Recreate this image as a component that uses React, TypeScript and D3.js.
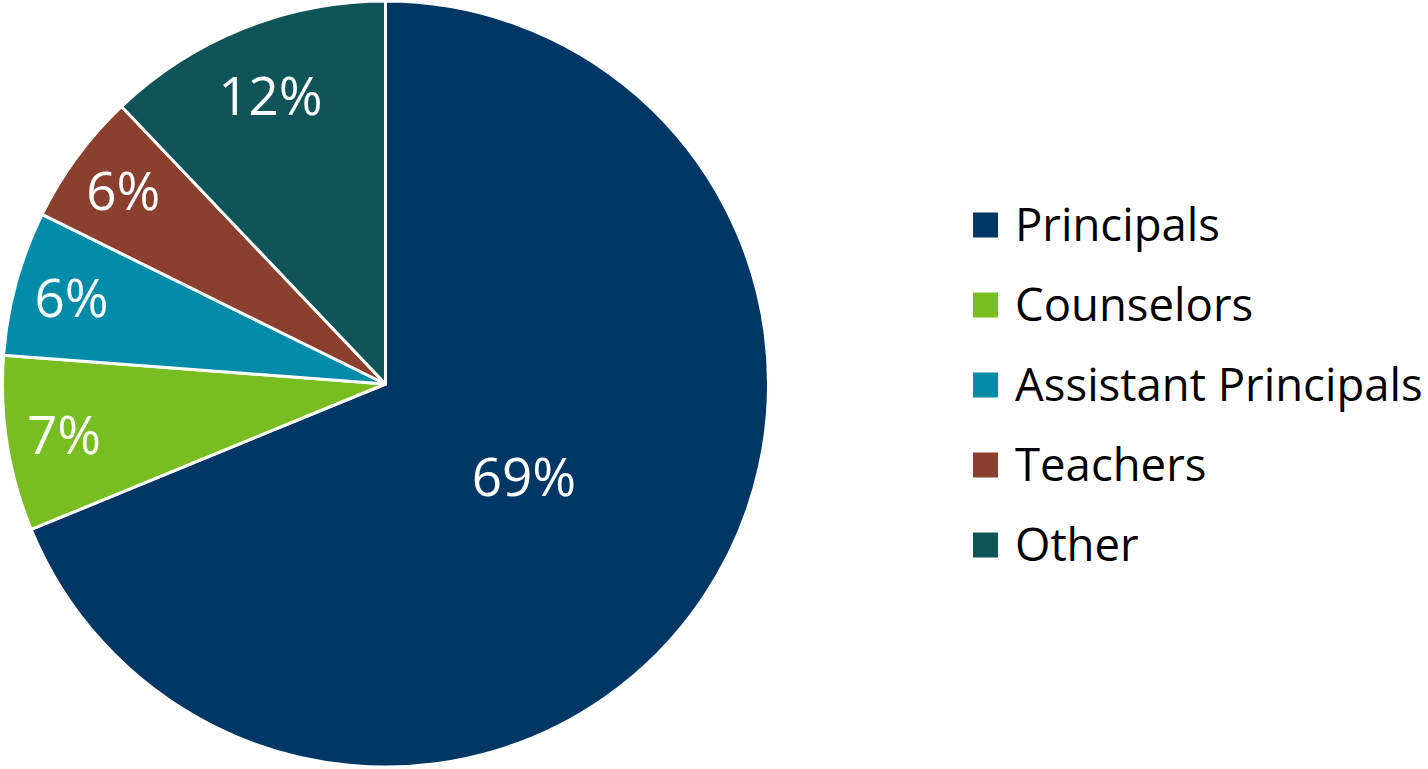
import * as d3 from "d3";
import React, { useEffect, useRef } from "react";

const categories = ["Principals", "Counselors", "Assistant Principals", "Teachers", "Other"];
const shares = [68.8, 7.4, 6.1, 5.6, 12.1];
const colors = ["#003764", "#78BE20", "#008CA8", "#8B3F2E", "#0F5458"];

const width = 1428;
const height = 769;

function drawChart(svgEl: SVGSVGElement) {
  const svg = d3.select(svgEl);
  svg.selectAll("*").remove();

  const cx = 385.5,
    cy = 384,
    radius = 383;

  const data = categories.map((c, i) => ({ label: c, value: shares[i], color: colors[i] }));

  const pie = d3
    .pie<any>()
    .value(d => d.value)
    .sort(null);
  const arcs = pie(data);

  const arc = d3.arc<any>().innerRadius(0).outerRadius(radius);

  const g = svg.append("g").attr("transform", `translate(${cx},${cy})`);

  g.selectAll("path")
    .data(arcs)
    .join("path")
    .attr("d", arc)
    .attr("fill", d => d.data.color)
    .attr("stroke", "#fff")
    .attr("stroke-width", 3)
    .attr("stroke-linejoin", "round");

  // labels: big slice near the middle, small ones out toward the rim
  const labelR = (v: number) => (v > 50 ? 0.435 : v > 10 ? 0.81 : 0.85) * radius;

  g.selectAll("text")
    .data(arcs)
    .join("text")
    .attr("transform", d => {
      const r = labelR(d.data.value);
      const a = (d.startAngle + d.endAngle) / 2;
      return `translate(${Math.sin(a) * r},${-Math.cos(a) * r})`;
    })
    .attr("dy", "0.36em")
    .attr("text-anchor", "middle")
    .attr("fill", "#fff")
    .style("font-family", "'Open Sans', sans-serif")
    .style("font-size", "53px")
    .text(d => `${Math.round(d.data.value)}%`);

  // legend
  const legend = svg
    .append("g")
    .attr("transform", "translate(973,225)")
    .selectAll("g")
    .data(data)
    .join("g")
    .attr("transform", (d, i) => `translate(0,${i * 80})`);

  legend
    .append("rect")
    .attr("x", 0)
    .attr("y", -12.5)
    .attr("width", 25)
    .attr("height", 25)
    .attr("fill", d => d.color);

  legend
    .append("text")
    .attr("x", 42)
    .attr("y", 16)
    .attr("fill", "#000")
    .style("font-family", "'Open Sans', sans-serif")
    .style("font-size", "45.5px")
    .text(d => d.label);
}

export default function App() {
  const ref = useRef<SVGSVGElement>(null);

  useEffect(() => {
    if (ref.current) drawChart(ref.current);
  }, []);

  return (
    <svg
      ref={ref}
      width={width}
      height={height}
      style={{ position: "absolute", left: 0, top: 0, background: "#fff" }}
    />
  );
}
